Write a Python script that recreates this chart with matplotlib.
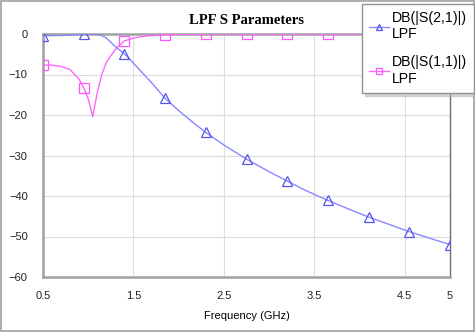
import numpy as np
import matplotlib.pyplot as plt
from matplotlib.patches import Rectangle

# frequency points (GHz)
freq = [0.5, 0.6, 0.7, 0.8, 0.9, 0.95, 1.0, 1.05, 1.1, 1.15, 1.2, 1.3, 1.4,
        1.5, 1.6, 1.7, 1.85, 2.0, 2.15, 2.3, 2.5, 2.75, 3.0, 3.2, 3.4, 3.65,
        3.9, 4.1, 4.3, 4.55, 4.8, 5.0]
s21 = [-0.4, -0.4, -0.35, -0.3, -0.15, -0.1, 0.0, 0.0, -0.1, -0.4, -1.0,
       -3.1, -4.9, -7.2, -9.6, -12.0, -15.9, -18.9, -21.7, -24.3, -27.4,
       -30.9, -34.0, -36.3, -38.6, -41.1, -43.4, -45.2, -46.8, -48.8, -50.6,
       -52.0]
s11 = [-7.7, -7.7, -8.0, -8.8, -11.2, -13.3, -16.0, -20.4, -14.5, -10.0,
       -7.0, -3.8, -1.7, -1.0, -0.6, -0.4, -0.2, -0.1, -0.05, -0.03, 0.0,
       0.0, 0.0, 0.0, 0.0, 0.0, 0.0, 0.0, 0.0, 0.0, 0.0, 0.0]
marker_freq = [0.5, 0.95, 1.4, 1.85, 2.3, 2.75, 3.2, 3.65, 4.1, 4.55, 5.0]

xticks = [0.5, 1.5, 2.5, 3.5, 4.5, 5]
xtick_labels = ['0.5', '1.5', '2.5', '3.5', '4.5', '5']
yticks = [0, -10, -20, -30, -40, -50, -60]

label21 = 'DB(|S(2,1)|)\nLPF'
label11 = 'DB(|S(1,1)|)\nLPF'

plt.rcParams['font.family'] = ['Liberation Sans', 'DejaVu Sans']

fig = plt.figure(figsize=(4.75, 3.32), dpi=100)
ax = fig.add_axes([43 / 475, 55 / 332, 407 / 475, 243 / 332])

marks = list(np.where(np.isin(np.round(freq, 2), marker_freq))[0])

ax.plot(freq, s11, color='#ff66ff', lw=1, marker='s', markevery=marks,
        markersize=7, markerfacecolor='none', markeredgecolor='#ff55ff',
        markeredgewidth=0.9, label=label11, zorder=3)
ax.plot(freq, s21, color='#8888ff', lw=1, marker='^', markevery=marks,
        markersize=7, markerfacecolor='none', markeredgecolor='#5555ee',
        markeredgewidth=0.9, label=label21, zorder=4)

ax.set_xlim(0.5, 5)
ax.set_ylim(-60, 0)
ax.set_xticks(xticks)
ax.set_xticklabels(xtick_labels)
ax.set_yticks(yticks)
ax.tick_params(length=0, labelsize=8, colors='#222222')
ax.tick_params(axis='x', pad=10)
ax.tick_params(axis='y', pad=11)
ax.grid(True, color='#dcdcdc', lw=0.8)
ax.set_axisbelow(True)
for side in ['left', 'bottom', 'top']:
    ax.spines[side].set_color('#a0a0a0')
    ax.spines[side].set_linewidth(1.8)
ax.spines['right'].set_color('#707070')
ax.spines['right'].set_linewidth(1)

ax.set_xlabel('Frequency (GHz)', fontsize=8, labelpad=7)

fig.text(246 / 475, 1 - 20 / 332, 'LPF S Parameters', ha='center', va='center',
         fontsize=10.5, fontweight='bold', family='Liberation Serif')

h, l = ax.get_legend_handles_labels()
leg = fig.legend(h[::-1], l[::-1], loc='upper left',
                 bbox_to_anchor=(362 / 475, 1 - 4 / 332), fontsize=10.2,
                 frameon=True, fancybox=False, shadow={'ox': 2, 'oy': -2, 'color': '#b0b0b0'},
                 handlelength=1.4, handletextpad=0.2, borderpad=0.5,
                 labelspacing=1.0, borderaxespad=0, markerscale=0.7)
leg.get_frame().set_edgecolor('#909090')
leg.get_frame().set_linewidth(1)
leg.set_zorder(10)

fig.patches.append(Rectangle((0.002, 0.003), 0.996, 0.994,
                             transform=fig.transFigure, fill=False,
                             edgecolor='#a0a0a0', lw=1.2))

fig.savefig('out.png', dpi=100)
